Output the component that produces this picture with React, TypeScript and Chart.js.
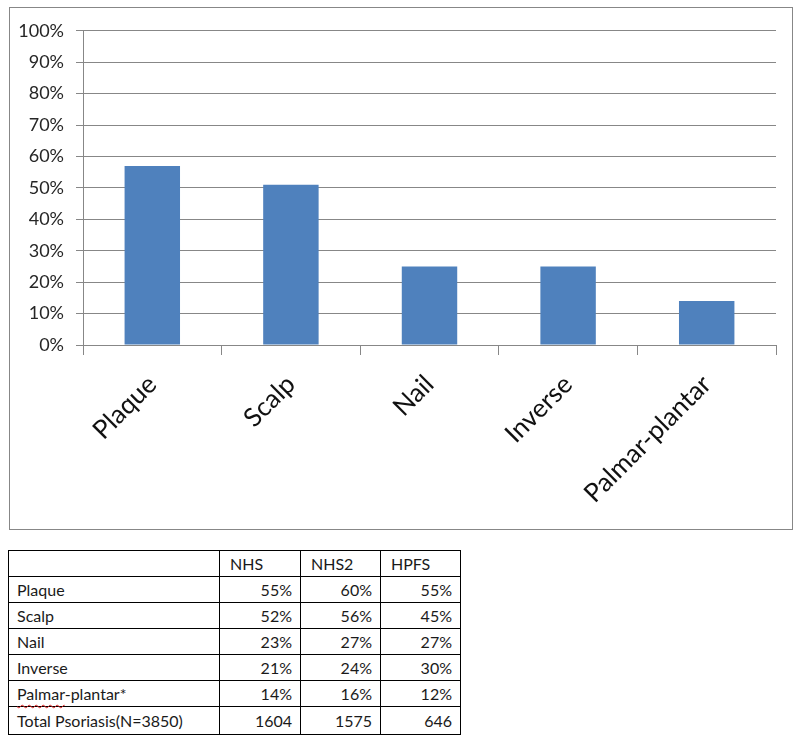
import React, { useEffect, useRef } from "react";
import { Chart, registerables } from "chart.js";

Chart.register(...registerables);

const categories = ["Plaque", "Scalp", "Nail", "Inverse", "Palmar-plantar"];
const values = [57, 51, 25, 25, 14];
const yMax = 100;
const yStep = 10;

const tableHeaders = ["", "NHS", "NHS2", "HPFS"];
const tableRowLabels = ["Plaque", "Scalp", "Nail", "Inverse", "Palmar-plantar*", "Total Psoriasis(N=3850)"];
const nhs = ["55%", "52%", "23%", "21%", "14%", "1604"];
const nhs2 = ["60%", "56%", "27%", "24%", "16%", "1575"];
const hpfs = ["55%", "45%", "27%", "30%", "12%", "646"];

const FONT = "Lato, 'Open Sans', sans-serif";
const GRID = "#878787";
const TEXT = "#262626";

function BarChart() {
  const ref = useRef<HTMLCanvasElement>(null);
  useEffect(() => {
    if (!ref.current) return;
    const chart = new Chart(ref.current, {
      type: "bar",
      data: {
        labels: categories,
        datasets: [
          {
            data: values,
            backgroundColor: "#4F81BD",
            borderWidth: 0,
            categoryPercentage: 1,
            barPercentage: 0.4,
          },
        ],
      },
      options: {
        responsive: false,
        animation: false,
        devicePixelRatio: 1,
        layout: { padding: { top: 19, right: 16, left: 0, bottom: 0 } },
        plugins: { legend: { display: false }, tooltip: { enabled: false } },
        scales: {
          x: {
            offset: true,
            grid: {
              offset: true,
              drawOnChartArea: false,
              drawTicks: true,
              tickLength: 10,
              color: GRID,
            },
            border: { display: true, color: GRID },
            ticks: {
              minRotation: 45,
              maxRotation: 45,
              autoSkip: false,
              padding: 14,
              color: "#111",
              font: { family: FONT, size: 26 },
            },
            afterFit: (s: any) => {
              s.height = 184;
            },
          },
          y: {
            min: 0,
            max: yMax,
            grid: { color: GRID, tickLength: 7, drawTicks: true },
            border: { display: true, color: GRID },
            ticks: {
              stepSize: yStep,
              padding: 12,
              color: TEXT,
              font: { family: FONT, size: 18 },
              callback: (v: any) => `${v}%`,
            },
            afterFit: (s: any) => {
              s.width = 73;
            },
          },
        },
      },
    });
    return () => chart.destroy();
  }, []);
  return <canvas ref={ref} width={782} height={521} style={{ display: "block" }} />;
}

export default function App() {
  const columns = [nhs, nhs2, hpfs];
  const colWidths = [211, 81, 80, 80];
  const cell: React.CSSProperties = {
    border: "1px solid #000",
    height: 25,
    padding: "0 8px",
    fontFamily: FONT,
    fontSize: 16,
    color: "#1a1a1a",
    whiteSpace: "nowrap",
    lineHeight: "25px",
  };
  return (
    <div>
      <div
        style={{
          position: "absolute",
          left: 9,
          top: 7,
          width: 782,
          height: 521,
          border: "1px solid #878787",
          background: "#fff",
        }}
      >
        <BarChart />
      </div>
      <table
        style={{
          position: "absolute",
          left: 8,
          top: 550,
          borderCollapse: "collapse",
          tableLayout: "fixed",
          width: 452,
        }}
      >
        <colgroup>
          {colWidths.map((w, i) => (
            <col key={i} style={{ width: w }} />
          ))}
        </colgroup>
        <tbody>
          <tr>
            {tableHeaders.map((h, i) => (
              <td key={i} style={{ ...cell, textAlign: "left", paddingLeft: i === 0 ? 8 : 10 }}>
                {h}
              </td>
            ))}
          </tr>
          {tableRowLabels.map((label, r) => (
            <tr key={r}>
              <td style={{ ...cell, textAlign: "left", height: r === tableRowLabels.length - 1 ? 27 : 25 }}>
                {label.startsWith("Palmar") ? (
                  <>
                    <span style={{ textDecoration: "underline wavy #d22", textUnderlineOffset: 4, textDecorationThickness: 1 }}>
                      Palmar
                    </span>
                    {label.slice(6)}
                  </>
                ) : (
                  label
                )}
              </td>
              {columns.map((col, c) => (
                <td key={c} style={{ ...cell, textAlign: "right" }}>
                  {col[r]}
                </td>
              ))}
            </tr>
          ))}
        </tbody>
      </table>
    </div>
  );
}
